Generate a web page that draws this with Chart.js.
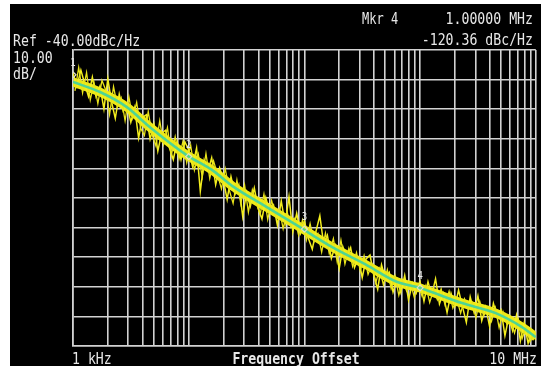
<!DOCTYPE html>
<html>
<head>
<meta charset="utf-8">
<script src="https://cdn.jsdelivr.net/npm/chart.js@4/dist/chart.umd.min.js"></script>
<style>
html,body{margin:0;padding:0;background:#fff;}
#c{display:block;}
</style>
</head>
<body>
<canvas id="c" width="541" height="366"></canvas>
<script>
// ---- data (frequency offsets in kHz, levels in dBc/Hz) ----
const yellowFreqKHz = [1,1.08,1.17,1.26,1.36,1.47,1.58,1.71,1.85,2,2.15,2.32,2.51,2.71,2.93,3.16,3.41,3.69,3.98,4.3,4.64,5.01,5.41,5.84,6.31,6.81,7.36,7.94,8.58,9.26,
10,10.8,11.7,12.6,13.6,14.7,15.8,17.1,18.5,20,21.5,23.2,25.1,27.1,29.3,31.6,34.1,36.9,39.8,43,46.4,50.1,54.1,58.4,63.1,68.1,73.6,79.4,85.8,92.6,
100,108,117,126,136,147,158,171,185,200,215,232,251,271,293,316,341,369,398,430,464,501,541,584,631,681,736,794,858,926,
1000,1080,1170,1260,1360,1470,1580,1710,1850,2000,2150,2320,2510,2710,2930,3160,3410,3690,3980,4300,4640,5010,5410,5840,6310,6810,7360,7940,8580,9260,10000];
const yellowDb = [-47.8,-52.3,-46.8,-51.3,-55.7,-49.2,-55.7,-52.2,-59.9,-49.7,-57.4,-63.1,-54.9,-60.6,-58.3,-64.4,-59.5,-69.7,-62.8,-61.9,-70.1,-65.1,-74.1,-68.1,-67.1,-73.0,-77.0,-71.0,-77.0,-71.0,
-73.8,-79.4,-73.1,-87.7,-77.2,-80.8,-76.4,-85.5,-79.8,-84.2,-90.5,-82.8,-88.8,-85.5,-96.3,-88.1,-92.8,-86.6,-93.4,-97.1,-89.9,-94.7,-92.4,-99.2,-91.0,-98.8,-89.6,-101.4,-95.2,-101.9,
-97.7,-103.5,-107.3,-101.2,-96.0,-105.8,-102.6,-110.4,-106.1,-113.8,-106.5,-110.2,-106.8,-113.5,-110.2,-116.9,-110.6,-109.3,-116.1,-120.8,-112.6,-117.3,-115.1,-121.8,-117.5,-121.9,-116.2,-124.5,-118.8,-122.1,
-118.4,-124.9,-118.3,-122.8,-117.3,-125.8,-122.2,-128.7,-122.2,-126.6,-121.1,-126.6,-132.0,-123.4,-128.7,-123.1,-131.5,-126.9,-133.3,-125.6,-130.1,-127.8,-136.5,-130.2,-134.9,-129.6,-138.3,-132.2,-139.1,-135.1,-138.0];

// second sweep of the yellow trace, read between the points above
const yellow2FreqKHz = [1.04,1.12,1.21,1.31,1.41,1.52,1.64,1.78,1.92,2.07,2.24,2.42,2.61,2.82,3.04,3.28,3.55,3.83,4.14,4.47,4.82,5.21,5.62,6.07,6.55,7.07,7.64,8.25,8.91,9.62,
10.4,11.2,12.1,13.1,14.1,15.2,16.4,17.8,19.2,20.7,22.4,24.2,26.1,28.2,30.4,32.8,35.5,38.3,41.4,44.7,48.2,52.1,56.2,60.7,65.5,70.7,76.4,82.5,89.1,96.2,
104,112,121,131,141,152,164,178,192,207,224,242,261,282,304,328,355,383,414,447,482,521,562,607,655,707,764,825,891,962,
1040,1120,1210,1310,1410,1520,1640,1780,1920,2070,2240,2420,2610,2820,3040,3280,3550,3830,4140,4470,4820,5210,5620,6070,6550,7070,7640,8250,8910,9620];
const yellow2Db = [-53.8,-45.9,-54.5,-47.6,-56.9,-51.0,-58.1,-50.3,-53.6,-61.8,-52.4,-59.0,-56.1,-63.9,-55.8,-63.0,-57.7,-66.3,-68.9,-60.8,-68.5,-72.4,-63.9,-71.8,-66.2,-75.6,-69.3,-76.8,-70.9,-78.1,
-72.1,-80.6,-75.2,-82.9,-75.0,-83.4,-77.5,-82.3,-86.9,-80.1,-87.3,-91.8,-83.9,-92.0,-85.6,-94.8,-87.2,-91.5,-95.6,-88.7,-97.3,-90.8,-96.1,-93.6,-100.4,-94.5,-99.8,-96.9,-102.6,-97.5,
-104.2,-98.6,-104.9,-102.1,-108.3,-101.9,-108.8,-103.7,-111.6,-104.2,-112.3,-107.0,-113.1,-108.4,-114.7,-109.5,-115.8,-112.4,-118.6,-113.9,-119.4,-114.2,-120.6,-116.3,-122.9,-117.8,-121.4,-118.5,-123.6,-119.0,
-123.2,-119.6,-125.3,-120.9,-124.4,-120.7,-126.1,-121.5,-127.2,-123.9,-128.9,-124.1,-127.6,-125.2,-130.4,-124.9,-129.8,-127.1,-131.7,-127.0,-133.8,-128.4,-132.6,-130.8,-135.6,-131.0,-137.4,-133.5,-138.6,-136.2];

const greenFreqKHz = [1,1.71,2.92,4.6,9.6,16,23.9,46.9,85,174,343,620,1000,2300,4500,7600,10000];
const greenDb = [-50.8,-54.2,-59.3,-66.0,-75.5,-80.6,-86.0,-93.0,-99.1,-106.6,-112.6,-118.2,-120.4,-125.5,-128.9,-133.6,-137.0];

const markerFreqKHz = [1,10,100,1000];
const markerDb = [-48.4,-76.0,-100.5,-120.36];
const markerLabels = ['1','2','3','4'];

const gridMantissas = [1,2,3,4,5,6,7,8,9];
const gridDecadesKHz = [1,10,100,1000];
const xMinKHz = 1, xMaxKHz = 10000;
const yMin = -140, yMax = -40, yStep = 10;

const xTickLabels = ['1 kHz','10 MHz'];
const xTitle = 'Frequency Offset';
const refText = 'Ref -40.00dBc/Hz';
const scaleText = ['10.00','dB/'];
const mkrText = ['Mkr 4','1.00000 MHz','-120.36 dBc/Hz'];

// ---- build ----
const gridValues = [];
gridDecadesKHz.forEach(d => gridMantissas.forEach(m => gridValues.push(m*d)));
gridValues.push(xMaxKHz);

const pts = (xs, ys) => xs.map((x,i)=>({x:x, y:ys[i]}));

const TXT = '#e8e8e8';
function drawTxt(ctx, s, x, y, size, sx, align, bold){
  ctx.save();
  ctx.font = (bold?'bold ':'') + size + 'px "DejaVu Sans Mono", "Liberation Mono", monospace';
  ctx.fillStyle = TXT;
  ctx.textBaseline = 'alphabetic';
  const w = ctx.measureText(s).width * sx;
  let x0 = x;
  if (align === 'right') x0 = x - w;
  else if (align === 'center') x0 = x - w/2;
  ctx.translate(x0, y);
  ctx.scale(sx, 1);
  ctx.textAlign = 'left';
  ctx.fillText(s, 0, 0);
  ctx.restore();
}

const bgPlugin = {
  id: 'bg',
  beforeDraw(chart){
    const ctx = chart.ctx;
    ctx.save();
    ctx.fillStyle = '#ffffff';
    ctx.fillRect(0,0,chart.width,chart.height);
    ctx.fillStyle = '#000000';
    ctx.fillRect(10,4,chart.width-10,chart.height-4);
    ctx.restore();
  },
  afterDraw(chart){
    const ctx = chart.ctx;
    drawTxt(ctx, refText, 13, 46, 15, 0.88, 'left');
    drawTxt(ctx, scaleText[0], 13, 63, 15, 0.88, 'left');
    drawTxt(ctx, scaleText[1], 13, 79, 15, 0.88, 'left');
    drawTxt(ctx, mkrText[0], 362, 24, 15, 0.80, 'left');
    drawTxt(ctx, mkrText[1], 533, 24, 15, 0.88, 'right');
    drawTxt(ctx, mkrText[2], 533, 45, 15, 0.88, 'right');
    drawTxt(ctx, xTickLabels[0], 72, 364, 15, 0.88, 'left');
    drawTxt(ctx, xTickLabels[1], 537, 364, 15, 0.88, 'right');
    drawTxt(ctx, xTitle, 296, 364, 15, 0.88, 'center', true);
    const meta = chart.getDatasetMeta(4);
    meta.data.forEach((p,i)=>{
      drawTxt(ctx, markerLabels[i], p.x, p.y - 9, 10, 0.9, 'center');
    });
  }
};

new Chart(document.getElementById('c'), {
  type: 'line',
  data: {
    datasets: [
      {
        label: 'band',
        data: pts(greenFreqKHz, greenDb),
        borderColor: '#eeea16',
        borderWidth: 9,
        pointRadius: 0,
        cubicInterpolationMode: 'monotone',
        order: 5
      },
      {
        label: 'trace',
        data: pts(yellowFreqKHz, yellowDb),
        borderColor: '#f3ee1e',
        borderWidth: 1.5,
        pointRadius: 0,
        tension: 0,
        order: 4
      },
      {
        label: 'trace2',
        data: pts(yellow2FreqKHz, yellow2Db),
        borderColor: '#e8e31a',
        borderWidth: 1.3,
        pointRadius: 0,
        tension: 0,
        order: 3
      },
      {
        label: 'smoothed',
        data: pts(greenFreqKHz, greenDb),
        borderColor: '#4ed494',
        borderWidth: 2.6,
        pointRadius: 0,
        cubicInterpolationMode: 'monotone',
        order: 2
      },
      {
        label: 'markers',
        data: pts(markerFreqKHz, markerDb),
        showLine: false,
        pointStyle: 'rectRot',
        pointRadius: 3,
        borderColor: '#e0e0c8',
        backgroundColor: 'rgba(0,0,0,0)',
        borderWidth: 1.2,
        order: 1
      }
    ]
  },
  options: {
    responsive: false,
    devicePixelRatio: 1,
    animation: false,
    layout: { padding: { left: 73, top: 50, right: 4, bottom: 20 } },
    plugins: { legend: { display: false }, tooltip: { enabled: false } },
    scales: {
      x: {
        type: 'logarithmic',
        min: xMinKHz, max: xMaxKHz,
        afterBuildTicks(scale){ scale.ticks = gridValues.map(v=>({value:v})); },
        ticks: { display: false },
        grid: { color: '#d2d2d2', lineWidth: 1.6, drawTicks: false },
        border: { display: true, color: '#d2d2d2', width: 1.6 }
      },
      y: {
        type: 'linear',
        min: yMin, max: yMax,
        ticks: { display: false, stepSize: yStep },
        grid: { color: '#d2d2d2', lineWidth: 1.6, drawTicks: false },
        border: { display: true, color: '#d2d2d2', width: 1.6 }
      }
    }
  },
  plugins: [bgPlugin]
});
</script>
</body>
</html>
